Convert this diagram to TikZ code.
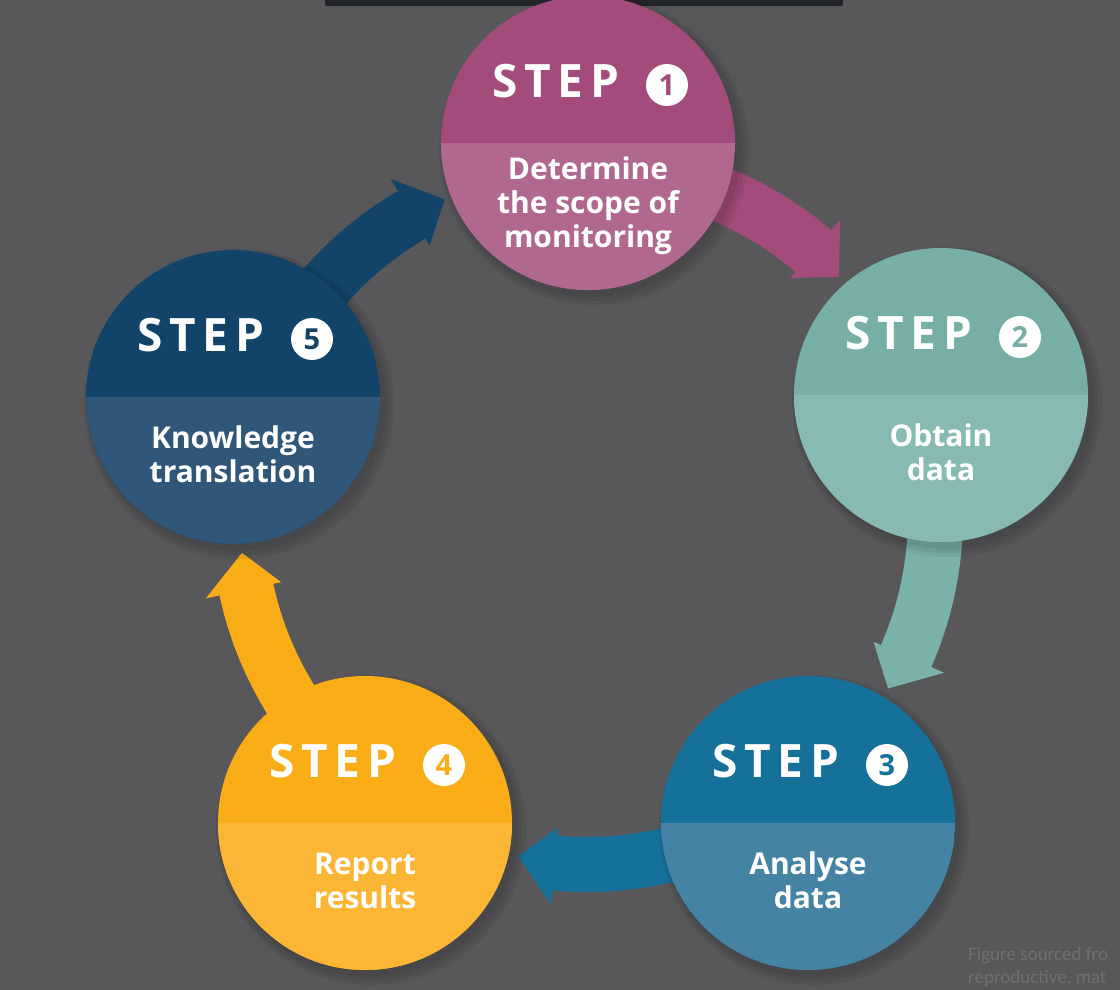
\documentclass[tikz,border=0pt]{standalone}
\usepackage{fontspec}
\setmainfont{Open Sans}
\newfontfamily\stepfont{Open Sans}[LetterSpace=15]
\newfontfamily\footfont{Carlito}
\usetikzlibrary{calc}
\definecolor{bg}{HTML}{58585A}
\definecolor{topbar}{HTML}{22252A}
\definecolor{foot}{HTML}{707072}
\definecolor{c1t}{HTML}{A34C7B}
\definecolor{c1b}{HTML}{B06890}
\definecolor{c2t}{HTML}{77AFA7}
\definecolor{c2b}{HTML}{87BAB3}
\definecolor{c3t}{HTML}{16719A}
\definecolor{c3b}{HTML}{4583A5}
\definecolor{c4t}{HTML}{FBAD17}
\definecolor{c4b}{HTML}{FCB635}
\definecolor{c5t}{HTML}{114468}
\definecolor{c5b}{HTML}{305679}
\definecolor{a2c}{HTML}{7AB1A9}
\tikzset{
  stepcircle/.style={circle, minimum size=294, inner sep=0pt, draw=none},
  steptext/.style={text=white, inner sep=0pt, font=\stepfont\bfseries\fontsize{46}{46}\selectfont},
  numdisc/.style={circle, fill=white, minimum size=42, inner sep=0pt, font=\bfseries\fontsize{29}{29}\selectfont},
  bodytext/.style={text=white, inner sep=0pt, align=center, font=\bfseries\fontsize{30}{34}\selectfont},
  footer/.style={text=foot, inner sep=0pt, font=\footfont\fontsize{19}{19}\selectfont},
  shade/.style={fill=black, opacity=0.06}
}
\newcommand\cyclearrow[4]{%
  \fill[#1] ($(O)+(#2:376)$) arc[start angle=#2, end angle=#3, radius=376]
    -- ($(O)+(#3:390)$) -- ($(O)+(#4:347)$) -- ($(O)+(#3:313)$)
    -- ($(O)+(#3:321)$) arc[start angle=#3, end angle=#2, radius=321] -- cycle;}
\newcommand\drawstep[8]{%
  \fill[shade] (#2+4,#3+5) circle[radius=149];
  \fill[shade] (#2+5,#3+6) circle[radius=152];
  \fill[shade] (#2+6,#3+7) circle[radius=155];
  \node[stepcircle, fill=#4, path picture={\fill[#5] (path picture bounding box.west) rectangle (path picture bounding box.south east);}] (s#1) at (#2,#3) {};
  \node[steptext, anchor=base west] (h#1) at (#2-96,#3-46) {STEP};
  \node[numdisc, text=#4] (n#1) at (#2+79,#3-58) {#6};
  \node[bodytext, anchor=base] (b#1) at (#2,#3+#7) {#8};
}
\begin{document}
\begin{tikzpicture}[x=1pt,y=-1pt]
\fill[bg] (0,0) rectangle (1120,990);
\useasboundingbox (0,0) rectangle (1120,990);
\fill[topbar] (325,0) rectangle (843,6);
\coordinate (O) at (587,516);
\cyclearrow{c1t}{-88}{-49.5}{-43.5}
\cyclearrow{a2c}{-18}{23.7}{29.8}
\cyclearrow{c3t}{55}{95.3}{101.4}
\cyclearrow{c4t}{127}{167.8}{173.9}
\cyclearrow{c5t}{199}{239.8}{245.8}
\drawstep{1}{588}{143}{c1t}{c1b}{1}{104}{Determine\\the scope of\\monitoring}
\drawstep{2}{941}{395}{c2t}{c2b}{2}{85}{Obtain\\data}
\drawstep{3}{808}{823}{c3t}{c3b}{3}{85}{Analyse\\data}
\drawstep{4}{365}{823}{c4t}{c4b}{4}{85}{Report\\results}
\drawstep{5}{233}{397}{c5t}{c5b}{5}{85}{Knowledge\\translation}
\node[footer, anchor=base west] (f1) at (968,960) {Figure sourced fro};
\node[footer, anchor=base west] (f2) at (968,983) {reproductive, mat};
\end{tikzpicture}
\end{document}
